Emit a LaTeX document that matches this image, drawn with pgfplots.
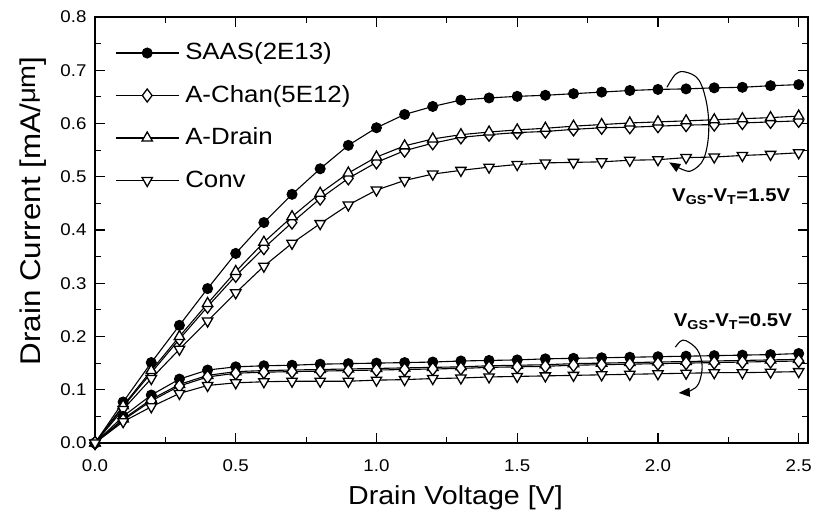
\documentclass[border=0pt]{standalone}
\usepackage{fontspec}
\setmainfont{Liberation Sans}[FakeStretch=1.1]
\usepackage{pgfplots}
\usepackage{pgfplotstable}
\pgfplotsset{compat=1.18}
\usetikzlibrary{arrows.meta}

\pgfplotstableread{
V SAAS AChan ADrain Conv
0.0 0.000 0.000 0.000 0.000
0.1 0.077 0.068 0.070 0.063
0.2 0.151 0.132 0.136 0.121
0.3 0.221 0.195 0.200 0.176
0.4 0.290 0.256 0.262 0.229
0.5 0.356 0.314 0.322 0.282
0.6 0.414 0.366 0.377 0.332
0.7 0.467 0.414 0.425 0.375
0.8 0.515 0.459 0.469 0.412
0.9 0.559 0.497 0.507 0.447
1.0 0.592 0.527 0.537 0.475
1.1 0.617 0.549 0.558 0.493
1.2 0.632 0.563 0.571 0.505
1.3 0.644 0.574 0.579 0.512
1.4 0.648 0.579 0.584 0.518
1.5 0.651 0.583 0.588 0.523
1.6 0.653 0.585 0.591 0.526
1.7 0.656 0.589 0.595 0.527
1.8 0.659 0.592 0.598 0.528
1.9 0.662 0.593 0.601 0.531
2.0 0.664 0.595 0.603 0.532
2.1 0.665 0.597 0.605 0.536
2.2 0.667 0.598 0.607 0.537
2.3 0.668 0.601 0.609 0.540
2.4 0.671 0.603 0.611 0.542
2.5 0.673 0.605 0.614 0.545
}\highdata

\pgfplotstableread{
V SAAS AChan ADrain Conv
0.0 0.000 0.000 0.000 0.000
0.1 0.050 0.043 0.045 0.040
0.2 0.090 0.079 0.082 0.068
0.3 0.120 0.107 0.110 0.093
0.4 0.137 0.124 0.127 0.108
0.5 0.143 0.131 0.134 0.113
0.6 0.145 0.133 0.136 0.115
0.7 0.146 0.134 0.137 0.116
0.8 0.148 0.135 0.138 0.116
0.9 0.149 0.136 0.139 0.116
1.0 0.150 0.137 0.140 0.118
1.1 0.151 0.138 0.141 0.119
1.2 0.152 0.139 0.142 0.121
1.3 0.154 0.140 0.143 0.122
1.4 0.155 0.142 0.145 0.124
1.5 0.156 0.143 0.146 0.125
1.6 0.158 0.144 0.147 0.126
1.7 0.159 0.146 0.149 0.127
1.8 0.160 0.147 0.150 0.128
1.9 0.161 0.148 0.151 0.129
2.0 0.162 0.149 0.152 0.130
2.1 0.163 0.150 0.153 0.131
2.2 0.164 0.151 0.154 0.132
2.3 0.165 0.152 0.155 0.132
2.4 0.166 0.153 0.156 0.133
2.5 0.168 0.154 0.157 0.134
}\lowdata

\begin{document}
\begin{tikzpicture}
\begin{axis}[
  scale only axis, width=713pt, height=426pt,
  xmin=0, xmax=2.533, ymin=0, ymax=0.8,
  xtick={0,0.5,1.0,1.5,2.0,2.5},
  ytick={0,0.1,0.2,0.3,0.4,0.5,0.6,0.7,0.8},
  minor x tick num=1, minor y tick num=1,
  tick align=inside, major tick length=10pt, minor tick length=6pt,
  axis line style={line width=1.6pt},
  every tick/.style={black, line width=1.2pt},
  ticklabel style={font=\fontsize{17}{17}\selectfont},
  xticklabel style={yshift=-13.5pt},
  yticklabel style={xshift=-5pt},
  /pgf/number format/fixed,
  /pgf/number format/fixed zerofill,
  /pgf/number format/precision=1,
  /pgf/number format/assume math mode=true,
  xlabel={Drain Voltage [V]},
  ylabel={Drain Current [mA/\raisebox{0.3ex}{\fontsize{25}{25}\selectfont μm}]},
  xlabel style={font=\fontsize{26}{26}\selectfont, at={(axis description cs:0.5056,-0.144)}, anchor=base},
  ylabel style={font=\fontsize{28.5}{28.5}\selectfont, at={(axis description cs:-0.0771,0.545)}, anchor=base},
  legend style={draw=none, fill=none, inner sep=0pt, at={(axis description cs:0.028,0.95)}, anchor=north west,
     font=\fontsize{23.5}{23.5}\selectfont, row sep=13.5pt, column sep=4pt,
     nodes={inner sep=2pt, text height=19pt, text depth=6pt}},
  legend cell align=left,
  legend image code/.code={\draw[mark repeat=2,mark phase=2,#1] plot coordinates {(0pt,0pt) (31.5pt,0pt) (63pt,0pt)};},
  every axis plot/.append style={black, line width=1.1pt},
]
\addplot[mark=*, mark size=5pt, mark options={fill=black, line width=1pt}] table[x=V,y=SAAS] {\highdata};
\addlegendentry{SAAS(2E13)}
\addplot[mark=diamond*, mark size=6.5pt, mark options={fill=white, line width=1.3pt}] table[x=V,y=AChan] {\highdata};
\addlegendentry{A-Chan(5E12)}
\addplot[mark=triangle*, mark size=6pt, mark options={fill=white, line width=1.3pt}] table[x=V,y=ADrain] {\highdata};
\addlegendentry{A-Drain}
\addplot[mark=triangle*, mark size=6pt, mark options={fill=white, line width=1.3pt, rotate=180}] table[x=V,y=Conv] {\highdata};
\addlegendentry{Conv}

\addplot[forget plot, mark=*, mark size=5pt, mark options={fill=black, line width=1pt}] table[x=V,y=SAAS] {\lowdata};
\addplot[forget plot, mark=triangle*, mark size=6pt, mark options={fill=white, line width=1.3pt}] table[x=V,y=ADrain] {\lowdata};
\addplot[forget plot, mark=diamond*, mark size=6.5pt, mark options={fill=white, line width=1.3pt}] table[x=V,y=AChan] {\lowdata};
\addplot[forget plot, mark=triangle*, mark size=6pt, mark options={fill=white, line width=1.3pt, rotate=180}] table[x=V,y=Conv] {\lowdata};

% curved arrows
\draw[line width=1.1pt, -{Triangle[length=11pt,width=9pt]}] plot[smooth, tension=0.6] coordinates
  {(2.032,0.668) (2.062,0.692) (2.095,0.697) (2.145,0.682) (2.174,0.635) (2.180,0.580) (2.162,0.533) (2.122,0.512) (2.090,0.513) (2.040,0.527)};
\draw[line width=1.1pt, -{Triangle[length=11pt,width=9pt]}] plot[smooth, tension=0.6] coordinates
  {(2.062,0.180) (2.080,0.191) (2.100,0.192) (2.140,0.175) (2.157,0.145) (2.145,0.112) (2.115,0.098) (2.074,0.094)};

\node[anchor=base west, inner sep=0pt, font=\fontsize{18.5}{20}\selectfont\bfseries] at (axis cs:2.050,0.453) {V\textsubscript{GS}-V\textsubscript{T}=1.5V};
\node[anchor=base west, inner sep=0pt, font=\fontsize{18.5}{20}\selectfont\bfseries] at (axis cs:2.056,0.218) {V\textsubscript{GS}-V\textsubscript{T}=0.5V};
\end{axis}
\path (current axis.south west) ++(-95pt,-74pt) rectangle ++(815pt,517pt);
\end{tikzpicture}
\end{document}
